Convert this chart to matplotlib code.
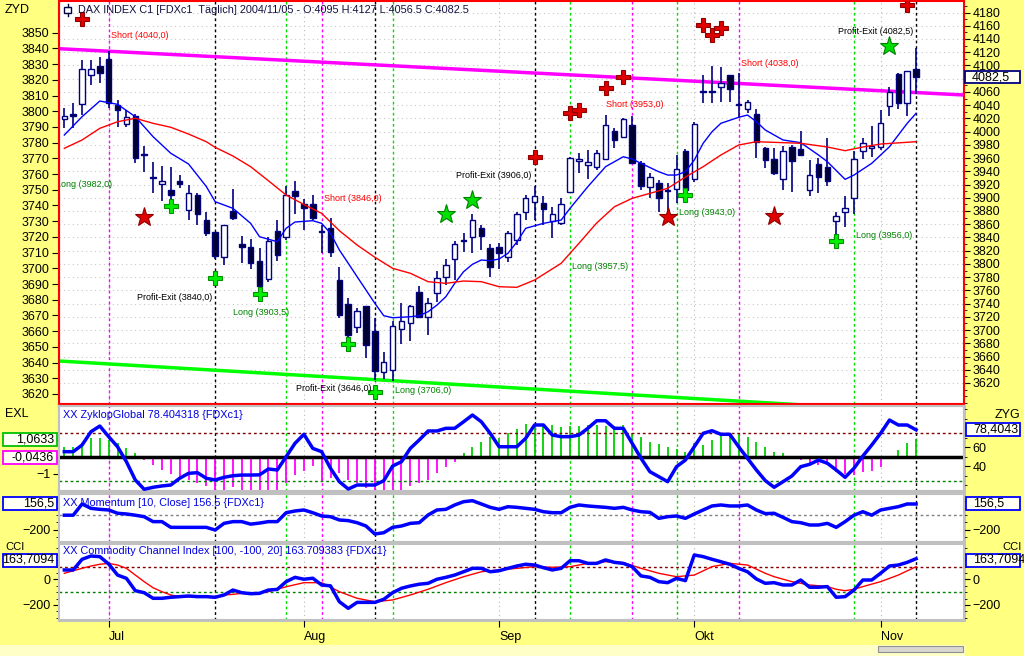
import numpy as np
import pandas as pd
import matplotlib
matplotlib.use('Agg')
import matplotlib.pyplot as plt
from matplotlib.patches import Rectangle
from matplotlib.ticker import MultipleLocator
from matplotlib.transforms import offset_copy

plt.rcParams['font.family'] = ['Liberation Sans Narrow', 'Liberation Sans', 'DejaVu Sans']

W, H = 1024, 656  # figure size in pixels

# daily DAX future candles, 24.06.2004 - 05.11.2004
dates = pd.bdate_range('2004-06-24', '2004-11-05')
month_labels = ['Jul', 'Aug', 'Sep', 'Okt', 'Nov']

opens = [4019, 4026, 4041, 4085, 4099, 4109, 4040, 4011, 4024, 3966, 3932, 3921, 3911, 3925, 3881, 3904,
         3866, 3848, 3810, 3880, 3830, 3825, 3804, 3777, 3849, 3840, 3910, 3890, 3890, 3849, 3855, 3775,
         3739, 3704, 3736, 3699, 3637, 3639, 3701, 3711, 3758, 3719, 3756, 3780, 3807, 3836, 3841, 3855,
         3824, 3825, 3810, 3836, 3879, 3894, 3892, 3865, 3862, 3909, 3955, 3950, 3947, 3958, 4001, 3992,
         4010, 3953, 3916, 3923, 3912, 3913, 3970, 3928, 4061, 4060, 4067, 4085, 4042, 4034, 4027, 3975,
         3958, 3929, 3976, 3974, 3912, 3951, 3947, 3865, 3878, 3899, 3970, 3975, 3976, 4038, 4087, 4043, 4095]
highs = [4035, 4043, 4108, 4108, 4113, 4122, 4048, 4033, 4027, 3978, 3954, 3948, 3947, 3934, 3919, 3907,
         3879, 3848, 3859, 3913, 3842, 3837, 3824, 3841, 3867, 3918, 3926, 3898, 3904, 3859, 3869, 3796,
         3748, 3734, 3737, 3718, 3667, 3713, 3741, 3738, 3766, 3748, 3790, 3807, 3835, 3846, 3876, 3859,
         3830, 3832, 3849, 3879, 3904, 3918, 3902, 3886, 3899, 3962, 3967, 3972, 3972, 4025, 4005, 4020,
         4023, 3955, 3937, 3927, 3922, 3965, 3973, 4015, 4086, 4099, 4098, 4086, 4088, 4048, 4034, 3976,
         3975, 3978, 3980, 4001, 3957, 3960, 3991, 3879, 3902, 3971, 3990, 4008, 4033, 4067, 4089, 4092, 4127]
lows = [4006, 4005, 4025, 4070, 4073, 4035, 4007, 4007, 3953, 3939, 3907, 3895, 3897, 3914, 3866, 3859,
        3842, 3808, 3798, 3866, 3802, 3792, 3763, 3772, 3805, 3836, 3876, 3851, 3866, 3817, 3811, 3718,
        3690, 3695, 3657, 3625, 3626, 3623, 3679, 3684, 3720, 3693, 3743, 3768, 3775, 3818, 3816, 3821,
        3780, 3793, 3803, 3829, 3866, 3866, 3859, 3839, 3859, 3907, 3937, 3928, 3942, 3957, 3975, 3991,
        3952, 3912, 3899, 3879, 3877, 3892, 3897, 3924, 4043, 4043, 4045, 4044, 4020, 4028, 3960, 3945,
        3934, 3912, 3909, 3964, 3903, 3907, 3918, 3841, 3856, 3875, 3958, 3962, 3972, 4023, 4034, 4024, 4056.5]
closes = [4024, 4024, 4094, 4094, 4088, 4043, 4032, 4022, 3960, 3964, 3930, 3925, 3904, 3921, 3907, 3875,
          3847, 3812, 3859, 3869, 3825, 3801, 3766, 3835, 3813, 3904, 3903, 3884, 3870, 3848, 3818, 3723,
          3692, 3729, 3677, 3638, 3652, 3706, 3713, 3736, 3720, 3741, 3778, 3799, 3830, 3834, 3866, 3842,
          3795, 3816, 3846, 3876, 3899, 3902, 3883, 3876, 3891, 3960, 3958, 3954, 3967, 4010, 3988, 4019,
          3953, 3918, 3932, 3899, 3910, 3943, 3911, 4012, 4060, 4061, 4074, 4064, 4040, 4044, 3985, 3957,
          3938, 3971, 3955, 3965, 3934, 3931, 3926, 3873, 3884, 3958, 3983, 3978, 4013, 4060, 4043, 4092, 4082.5]

# moving averages as drawn on the chart
ma_fast_idx = [0, 2, 4, 6, 8, 10, 12, 14, 16, 17, 19, 21, 22, 24, 25, 26, 28, 29, 30, 31, 32, 33, 34, 35, 36,
               37, 39, 40, 41, 42, 43, 44, 45, 46, 47, 48, 49, 50, 51, 52, 54, 56, 57, 59, 61, 63, 64, 65, 67,
               68, 69, 70, 71, 72, 73, 74, 76, 77, 78, 79, 81, 83, 85, 86, 88, 89, 91, 93, 94, 95, 96]
ma_fast = [3994.8, 4022.5, 4046.2, 4041.2, 4022.5, 3992.3, 3967.2, 3951.0, 3917.0, 3894.0, 3884.0, 3861.3,
           3841.1, 3833.5, 3853.8, 3863.3, 3865.3, 3861.3, 3846.2, 3821.0, 3800.9, 3780.6, 3760.5, 3740.4,
           3721.7, 3718.6, 3720.1, 3721.7, 3727.7, 3737.8, 3750.4, 3770.6, 3788.2, 3799.4, 3805.9, 3804.8,
           3807.4, 3816.0, 3833.1, 3853.8, 3861.3, 3866.3, 3884.0, 3916.7, 3946.9, 3962.0, 3958.5, 3952.0,
           3939.3, 3934.3, 3934.3, 3939.3, 3957.0, 3982.3, 3999.8, 4012.5, 4021.6, 4025.0, 4015.0, 4002.4,
           3987.3, 3983.2, 3964.6, 3954.5, 3927.8, 3934.3, 3952.0, 3977.1, 3994.8, 4012.5, 4027.6]
ma_slow_idx = [0, 2, 4, 6, 8, 10, 12, 14, 16, 17, 19, 21, 23, 25, 27, 29, 31, 33, 35, 37, 39, 41, 43, 45, 47,
               49, 51, 53, 56, 58, 60, 62, 64, 68, 70, 72, 74, 76, 78, 83, 86, 88, 90, 92, 96]
ma_slow = [3974.7, 3987.3, 4004.9, 4014.9, 4020.1, 4012.5, 4006.5, 3996.3, 3984.7, 3976.2, 3963.1, 3946.9,
           3925.7, 3904.1, 3889.8, 3876.4, 3850.2, 3828.5, 3810.0, 3793.3, 3785.8, 3773.1, 3770.6, 3774.1,
           3773.1, 3765.5, 3764.6, 3775.6, 3800.9, 3831.1, 3861.8, 3886.4, 3899.1, 3914.2, 3931.3, 3946.9,
           3964.6, 3979.7, 3984.7, 3982.3, 3976.7, 3971.1, 3976.7, 3981.2, 3984.7]

# trend lines (start / end)
trend_idx = [-0.6, 101.4]
trend_top = [4125.3, 4055.3]
trend_bottom = [3653.2, 3572.4]

# trading signals
short_idx = [5, 29, 64, 76]
exit_idx = [17, 35, 53, 96]
long_idx = [25, 37, 57, 69, 89]
red_cross_idx = [2, 53, 57, 58, 61, 63, 72, 73, 74, 95]
red_cross_val = [4170.2, 3961.1, 4028.5, 4032.6, 4065.4, 4083.0, 4161.1, 4146.0, 4156.1, 4191.3]
green_cross_idx = [12, 17, 22, 32, 35, 70, 87]
green_cross_val = [3887.5, 3778.2, 3754.5, 3678.4, 3606.8, 3904.1, 3835.0]
red_star_idx = [9, 68, 80]
red_star_val = [3870.4, 3871.3, 3872.4]
green_star_idx = [43, 46, 93]
green_star_val = [3875.4, 3896.6, 4129.4]

label_text = ['Short (4040,0)', 'Long (3982,0)', 'Profit-Exit (3840,0)', 'Long (3903,5)', 'Short (3846,0)',
              'Profit-Exit (3646,0)', 'Long (3706,0)', 'Profit-Exit (3906,0)', 'Long (3957,5)',
              'Short (3953,0)', 'Long (3943,0)', 'Short (4038,0)', 'Long (3956,0)', 'Profit-Exit (4082,5)']
label_idx = [5, 5, 17, 25, 29, 35, 37, 53, 57, 64, 69, 76, 89, 96]
label_val = [4144.5, 3920.7, 3748.9, 3726.8, 3898.1, 3611.9, 3608.3, 3933.3, 3795.7, 4040.2, 3878.0,
             4102.2, 3842.6, 4152.0]

# indicator panels
zyklop = [55.4, 55.4, 62.4, 76.4, 82.4, 71.2, 60.6, 44.8, 25.6, 15.8, 17.9, 19.3, 20.3, 27.4, 32.6, 33.3,
          27.4, 25.6, 28.4, 30.1, 30.8, 30.8, 31.0, 37.2, 36.1, 50.1, 64.2, 73.7, 58.9, 55.4, 37.9, 23.8,
          16.1, 20.3, 20.3, 20.3, 24.8, 40.3, 44.8, 58.9, 67.7, 77.2, 77.2, 80.0, 80.0, 86.9, 94.0, 86.9,
          74.7, 60.6, 60.6, 60.6, 69.5, 83.5, 83.5, 72.9, 71.2, 71.2, 72.9, 80.0, 88.0, 88.0, 80.0, 80.0,
          64.2, 48.4, 34.3, 29.1, 23.8, 39.6, 46.6, 60.6, 74.7, 77.5, 73.7, 73.7, 60.6, 48.4, 36.1, 25.0,
          17.9, 23.8, 29.8, 39.6, 42.1, 46.6, 43.2, 36.1, 28.4, 37.9, 50.8, 62.4, 74.7, 88.7, 83.5, 83.5, 78.4]
exl = [0.61, 0.61, 0.8, 1.1, 1.1, 1.0, 0.8, 0.51, 0.22, -0.18, -0.47, -0.76, -1.0, -1.2, -1.35, -1.51,
       -1.7, -2.1, -2.1, -1.78, -2.1, -2.1, -2.1, -2.1, -2.1, -1.55, -1.06, -0.8, -0.53, -1.45, -1.25, -0.92,
       -1.35, -1.55, -1.84, -2.1, -2.1, -1.94, -1.94, -1.7, -1.55, -1.35, -0.96, -0.57, -0.28, 0.22, 0.61,
       0.9, 1.2, 1.14, 1.39, 1.63, 1.94, 1.94, 1.92, 1.88, 1.78, 1.82, 1.82, 1.88, 1.88, 1.84, 1.84, 1.88,
       1.39, 1.2, 0.9, 0.75, 0.61, 0.45, 0.31, 0.84, 0.71, 1.0, 1.29, 1.29, 1.39, 1.2, 0.9, 0.57, 0.31,
       0.22, -0.14, -0.2, -0.37, -0.47, -0.47, -0.86, -1.0, -1.06, -0.86, -0.82, -0.57, -0.08, 0.41, 0.8,
       1.0633]
momentum = [0, 0, 157, 96, 82, 73, 27, 17, 0, -21, -90, -90, -170, -170, -170, -170, -170, -207, -114, -90,
            -90, -125, -110, -90, -90, 35, 59, 73, 35, -11, -21, -67, -76, -105, -151, -263, -245, -170, -151,
            -114, -105, 3, 73, 82, 143, 189, 203, 157, 110, 82, 119, 110, 96, 82, 49, 35, 35, 110, 143, 129,
            119, 110, 96, 110, 73, 49, 40, -44, -21, -11, -44, 17, 73, 129, 143, 129, 129, 143, 73, 22, 27,
            -30, -90, -105, -137, -137, -114, -170, -90, 0, 49, 0, 73, 96, 119, 157, 156.5]
cci = [75, 75, 159, 185, 180, 122, 35, 9, -88, -104, -148, -148, -140, -135, -130, -135, -135, -140, -122,
       -83, -104, -112, -109, -83, -78, -17, 17, 2, 10, -43, -50, -175, -227, -180, -180, -180, -156, -104,
       -69, -51, -37, -30, 2, 17, 35, 61, 88, 88, 61, 69, 88, 106, 120, 114, 93, 75, 88, 148, 148, 127, 127,
       154, 135, 127, 101, 28, 17, -17, -25, 9, -9, 193, 180, 159, 140, 120, 88, 61, 4, -30, -25, -43, -43,
       -4, -61, -61, -56, -140, -135, -83, -4, -4, 49, 106, 114, 135, 163.7]
cci_avg_idx = [0, 2, 3, 4, 5, 6, 7, 8, 9, 10, 11, 12, 13, 17, 18, 19, 20, 21, 23, 25, 27, 29, 31, 33, 35,
               37, 39, 41, 43, 45, 47, 49, 51, 53, 55, 57, 59, 61, 63, 65, 67, 69, 71, 73, 75, 77, 79, 80,
               82, 84, 86, 87, 88, 89, 90, 92, 94, 96]
cci_avg = [49, 88, 106, 120, 127, 114, 88, 35, -17, -65, -96, -122, -135, -135, -122, -117, -109, -114,
           -96, -57, -25, -25, -96, -148, -175, -161, -122, -77, -25, 22, 61, 75, 88, 101, 96, 101, 127,
           140, 133, 88, 49, 22, 35, 101, 127, 114, 49, 22, -17, -43, -56, -77, -88, -77, -56, -17, 35, 101]

fig = plt.figure(figsize=(W / 100, H / 100), dpi=100)
fig.patch.set_facecolor('#FFFF80')


def fx(px):
    return px / W


def fy(py):
    return 1 - py / H


def panel(x0, y0, x1, y1):
    return fig.add_axes([fx(x0), fy(y1), fx(x1) - fx(x0), fy(y0) - fy(y1)])


def value_box(x0, x1, yc, text, color, ha, hgt=13):
    # little framed value boxes on the price scales
    fig.add_artist(Rectangle((fx(x0), fy(yc + hgt / 2)), fx(x1) - fx(x0), hgt / H, transform=fig.transFigure,
                             fc='#FFFFF4', ec=color, lw=1.3, zorder=5))
    tx = x1 - 3 if ha == 'right' else x0 + 7
    fig.text(fx(tx), fy(yc), text, ha=ha, va='center', fontsize=9, zorder=6)


# grey frame behind the indicator panels + bottom strip
fig.add_artist(Rectangle((fx(58), fy(622)), fx(966) - fx(58), 217 / H, transform=fig.transFigure,
                         fc='#C0C0C0', ec='none', zorder=-1))
fig.add_artist(Rectangle((0, 0), fx(965), 11 / H, transform=fig.transFigure, fc='#FFFFC8', ec='none', zorder=-1))
fig.add_artist(Rectangle((fx(878), fy(652)), fx(963) - fx(878), 6 / H, transform=fig.transFigure,
                         fc='#D8D8D0', ec='#909090', lw=0.8, zorder=1))

ax1 = panel(59, 1, 964, 404)
ax2 = panel(59, 406, 964, 491)
ax3 = panel(59, 494, 964, 541.5)
ax4 = panel(59, 544, 964, 620)

x = np.arange(len(closes))
month_start = [i for i in range(1, len(dates)) if dates[i].month != dates[i - 1].month]

dot = (0, (2, 2))
for ax in (ax1, ax2, ax3, ax4):
    ax.set_xlim(-0.6, 101.4)
    ax.set_facecolor('white')
    for m in month_start:
        ax.axvline(m, color='#B8B8B8', lw=0.8, ls=(0, (1, 3)), zorder=1)
    for i in short_idx:
        ax.axvline(i, color='#FF00FF', lw=1, ls=dot, zorder=2)
    for i in exit_idx:
        ax.axvline(i, color='black', lw=1, ls=dot, zorder=2)
    for i in long_idx:
        ax.axvline(i, color='#00DD00', lw=1, ls=dot, zorder=2)
    ax.tick_params(axis='x', bottom=False, labelbottom=False)

# ---- main price panel ----
ax1.set_ylim(3588.2, 4197.4)
for s in ax1.spines.values():
    s.set_color('red')
    s.set_linewidth(1.5)
ax1.yaxis.tick_right()
price_ticks = np.arange(3620, 4181, 20)
ax1.set_yticks(price_ticks, ['' if t == 4080 else str(t) for t in price_ticks])
ax1.yaxis.set_minor_locator(MultipleLocator(10))
ax1.tick_params(axis='y', which='major', labelsize=9, length=4, pad=2)
ax1.tick_params(axis='y', which='minor', length=2)
for t in price_ticks:
    ax1.axhline(t, color='#C8C8C8', lw=0.8, ls=(0, (1, 3)), zorder=1)

zyd = ax1.secondary_yaxis('left', functions=(lambda v: 3613.6 + (v - 3588.2) * 0.42121,
                                             lambda v: 3588.2 + (v - 3613.6) / 0.42121))
zyd.set_yticks(np.arange(3620, 3851, 10))
zyd.tick_params(labelsize=9, length=5, pad=2)
zyd.spines['left'].set_color('red')

ax1.plot(trend_idx, trend_top, color='#FF00FF', lw=2.5, zorder=2.5)
ax1.plot(trend_idx, trend_bottom, color='#00FF00', lw=2.5, zorder=2.5)

o, h, l, c = map(np.array, (opens, highs, lows, closes))
ax1.vlines(x, l, h, color='#000080', lw=1.2, zorder=3)
ax1.bar(x, np.maximum(np.abs(c - o), 1.5), bottom=np.minimum(o, c), width=0.62,
        color=np.where(c >= o, 'white', '#000030'), edgecolor='#000080', lw=1, zorder=4)
ax1.plot(ma_fast_idx, ma_fast, color='#0000FF', lw=1, zorder=5)
ax1.plot(ma_slow_idx, ma_slow, color='#FF0000', lw=1, zorder=5)

ax1.plot(red_cross_idx, red_cross_val, 'P', ms=10, mfc='#E00000', mec='#900000', mew=0.8, ls='none', zorder=6)
ax1.plot(green_cross_idx, green_cross_val, 'P', ms=10, mfc='#00F000', mec='#009000', mew=0.8, ls='none', zorder=6)
ax1.plot(red_star_idx, red_star_val, '*', ms=14, mfc='#E00000', mec='#900000', mew=0.8, ls='none', zorder=6)
ax1.plot(green_star_idx, green_star_val, '*', ms=14, mfc='#00E000', mec='#008000', mew=0.8, ls='none', zorder=6)

for txt, xi, val in zip(label_text, label_idx, label_val):
    if txt.startswith('Profit'):
        ha, dx, col = 'right', -3, 'black'
    elif txt.startswith('Short'):
        ha, dx, col = 'left', 2, '#FF0000'
    else:
        ha, dx, col = 'left', 2, '#008000'
    if txt in ('Long (3903,5)', 'Long (3982,0)'):
        ha, dx = 'right', 3
    if txt == 'Short (3953,0)':
        ha, dx = 'center', 3
    tr = offset_copy(ax1.transData, fig=fig, x=dx, y=0, units='dots')
    ax1.text(xi, val, txt, transform=tr, ha=ha, va='center', color=col, fontsize=6.5, clip_on=True, zorder=7)

# ---- ZyklopGlobal panel ----
ax2.set_ylim(-2.0, 3.0)
ax2.vlines(x, 0, exl, colors=np.where(np.array(exl) >= 0, '#00D000', '#FF00FF'), lw=1.3, zorder=3)
ax2.axhline(0, color='black', lw=2.5, zorder=4)
ax2.set_yticks([-1, 0, 1], ['\u22121', '', ''])
ax2.tick_params(axis='y', labelsize=9, length=4, pad=2)
ax2r = ax2.twinx()
ax2r.set_ylim(14.0, 103.5)
ax2r.plot(x, zyklop, color='#0000FF', lw=2.5, zorder=5)
ax2r.axhline(75, color='#800000', lw=1, ls=dot)
ax2r.axhline(25, color='#008000', lw=1, ls=dot)
ax2r.set_yticks([40, 60, 80], ['40', '60', ''])
ax2r.yaxis.set_minor_locator(MultipleLocator(10))
ax2r.tick_params(axis='y', labelsize=9, length=4, pad=2)
ax2r.tick_params(axis='y', which='minor', length=2)

# ---- Momentum panel ----
ax3.set_ylim(-367.8, 296.5)
ax3.axhline(0, color='#808080', lw=1, ls=dot)
ax3.plot(x, momentum, color='#0000FF', lw=2.5, zorder=5)
ax3.set_yticks([-200, 200], ['\u2212200', ''])

# ---- CCI panel ----
ax4.set_ylim(-318.9, 279.5)
ax4.axhline(100, color='#800000', lw=1, ls=dot)
ax4.axhline(-100, color='#008000', lw=1, ls=dot)
ax4.plot(cci_avg_idx, cci_avg, color='#FF0000', lw=1, zorder=4)
ax4.plot(x, cci, color='#0000FF', lw=2.5, zorder=5)
ax4.set_yticks([-200, 0, 200], ['\u2212200', '0', ''])

for ax in (ax3, ax4):
    ax.yaxis.set_minor_locator(MultipleLocator(100 if ax is ax3 else 50))
    ax.tick_params(axis='y', which='both', left=True, right=True, labelleft=True, labelright=True)
    ax.tick_params(axis='y', which='major', labelsize=9, length=4, pad=2)
    ax.tick_params(axis='y', which='minor', length=2)

for ax in (ax2, ax2r, ax3, ax4):
    for s in ax.spines.values():
        s.set_color('#C0C0C0')
        s.set_linewidth(1.5)

ax4.tick_params(axis='x', bottom=True, labelbottom=True, length=5, pad=3, labelsize=9)
ax4.set_xticks(month_start, month_labels)
for lbl in ax4.get_xticklabels():
    lbl.set_ha('left')

# texts
fig.text(fx(5), fy(10), 'ZYD', fontsize=9, va='center')
fig.add_artist(Rectangle((fx(64), fy(13)), fx(7), 6 / H, transform=fig.transFigure, fc='white', ec='#000040', lw=1, zorder=4))
fig.add_artist(plt.Line2D([fx(67.5), fx(67.5)], [fy(4), fy(7)], transform=fig.transFigure, color='#000040', lw=1, zorder=4))
fig.add_artist(plt.Line2D([fx(67.5), fx(67.5)], [fy(13), fy(16)], transform=fig.transFigure, color='#000040', lw=1, zorder=4))
fig.text(fx(78), fy(10), 'DAX INDEX C1 [FDXc1  Täglich] 2004/11/05 - O:4095 H:4127 L:4056.5 C:4082.5',
         fontsize=7.8, va='center', color='#101040')
fig.text(fx(63), fy(415), 'XX ZyklopGlobal 78.404318 {FDXc1}', fontsize=7.8, va='center', color='#0000E0')
fig.text(fx(63), fy(503), 'XX Momentum [10, Close] 156.5 {FDXc1}', fontsize=7.8, va='center', color='#0000E0')
fig.text(fx(63), fy(551), 'XX Commodity Channel Index [100, -100, 20] 163.709383 {FDXc1}', fontsize=7.8,
         va='center', color='#0000E0')
fig.text(fx(5), fy(414), 'EXL', fontsize=9, va='center')
fig.text(fx(995), fy(415), 'ZYG', fontsize=9, va='center')
fig.text(fx(5), fy(547), 'CCI', fontsize=8, va='center', zorder=3)
fig.text(fx(1002), fy(547), 'CCI', fontsize=8, va='center', zorder=3)

value_box(3, 57, 439, '1,0633', '#00C000', 'right')
value_box(3, 57, 457.5, '-0,0436', '#FF00FF', 'right')
value_box(3, 57, 503.5, '156,5', '#0000FF', 'right')
value_box(3, 57, 560, '163,7094', '#0000FF', 'right')
value_box(966, 1020, 429, '78,4043', '#0000FF', 'left')
value_box(966, 1020, 503.5, '156,5', '#0000FF', 'left')
value_box(966, 1020, 560, '163,7094', '#0000FF', 'left')
value_box(965, 1020, 77, '4082,5', '#000080', 'left', hgt=12)

fig.savefig('out.png', dpi=100, facecolor=fig.get_facecolor())
